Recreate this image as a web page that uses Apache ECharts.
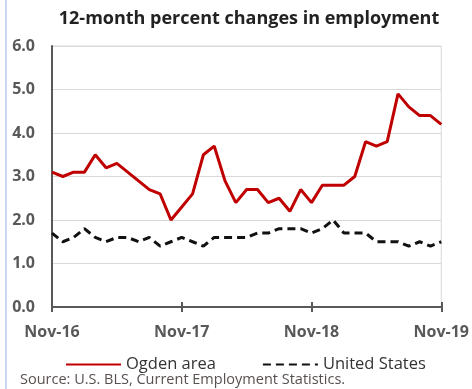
<!DOCTYPE html>
<html>
<head>
<meta charset="utf-8">
<script src="https://cdn.jsdelivr.net/npm/echarts@6/dist/echarts.min.js"></script>
<style>
  html, body { margin: 0; padding: 0; background: #fff; }
  #chart { width: 472px; height: 389px; }
</style>
</head>
<body>
<div id="chart"></div>
<script>
// months Nov-16 .. Nov-19
const months = [];
const monNames = ['Jan', 'Feb', 'Mar', 'Apr', 'May', 'Jun', 'Jul', 'Aug', 'Sep', 'Oct', 'Nov', 'Dec'];
for (let i = 0; i < 37; i++) {
  const m = (10 + i) % 12;
  const y = 16 + Math.floor((10 + i) / 12);
  months.push(monNames[m] + '-' + y);
}

const ogden = [3.1, 3.0, 3.1, 3.1, 3.5, 3.2, 3.3, 3.1, 2.9, 2.7, 2.6, 2.0,
  2.3, 2.6, 3.5, 3.7, 2.9, 2.4, 2.7, 2.7, 2.4, 2.5, 2.2, 2.7,
  2.4, 2.8, 2.8, 2.8, 3.0, 3.8, 3.7, 3.8, 4.9, 4.6, 4.4, 4.4, 4.2];

const unitedStates = [1.7, 1.5, 1.6, 1.8, 1.6, 1.5, 1.6, 1.6, 1.5, 1.6, 1.4, 1.5,
  1.6, 1.5, 1.4, 1.6, 1.6, 1.6, 1.6, 1.7, 1.7, 1.8, 1.8, 1.8,
  1.7, 1.8, 2.0, 1.7, 1.7, 1.7, 1.5, 1.5, 1.5, 1.4, 1.5, 1.4, 1.5];

const chart = echarts.init(document.getElementById('chart'));
const font = '"Open Sans", sans-serif';

const option = {
  backgroundColor: '#fff',
  animation: false,
  title: {
    text: '12-month percent changes in employment',
    left: 244,
    textAlign: 'center',
    top: 5,
    textStyle: { fontFamily: font, fontSize: 18, fontWeight: 'bold', color: '#222' },
  },
  grid: {
    left: 52,
    right: 29,
    top: 46,
    bottom: 82,
    show: true,
    borderColor: '#d9d9d9',
    borderWidth: 1,
  },
  legend: {
    left: 60,
    top: 351,
    itemWidth: 55,
    itemHeight: 10,
    itemGap: 46,
    itemStyle: { opacity: 0 },
    textStyle: { fontFamily: font, fontSize: 16.5, color: '#333' },
    data: ['Ogden area', 'United States'],
  },
  xAxis: [
    {
      type: 'category',
      data: months,
      boundaryGap: false,
      axisLine: { lineStyle: { color: '#595959', width: 2 } },
      axisTick: { interval: 11, length: 5, lineStyle: { color: '#595959', width: 2 } },
      axisLabel: {
        interval: 11,
        margin: 17,
        fontFamily: font,
        fontSize: 16,
        fontWeight: 'bold',
        color: '#595959',
        formatter: (v) => v,
      },
      splitLine: { show: false },
    },
    {
      type: 'category',
      data: months,
      boundaryGap: false,
      position: 'bottom',
      axisLine: { show: false },
      axisTick: { inside: true, interval: 11, length: 5, lineStyle: { color: '#595959', width: 2 } },
      axisLabel: { show: false },
      splitLine: { show: false },
    },
  ],
  yAxis: {
    type: 'value',
    min: 0,
    max: 6,
    interval: 1,
    axisLine: { show: true, lineStyle: { color: '#595959', width: 2 } },
    axisTick: { show: false },
    axisLabel: {
      margin: 17,
      fontFamily: font,
      fontSize: 16,
      fontWeight: 'bold',
      color: '#595959',
      formatter: (v) => v.toFixed(1),
    },
    splitLine: { lineStyle: { color: '#d9d9d9', width: 1 } },
  },
  graphic: [
    {
      type: 'rect',
      shape: { x: 5, y: 0, width: 2, height: 389 },
      style: { fill: '#c9d7ef' },
    },
    {
      type: 'text',
      left: 20,
      top: 372,
      style: {
        text: 'Source: U.S. BLS, Current Employment Statistics.',
        font: '14.5px "Open Sans", sans-serif',
        fill: '#5a5050',
      },
    },
  ],
  series: [
    {
      name: 'Ogden area',
      type: 'line',
      data: ogden,
      symbol: 'none',
      lineStyle: { color: '#c00000', width: 3 },
      itemStyle: { color: '#c00000' },
      z: 3,
    },
    {
      name: 'United States',
      type: 'line',
      data: unitedStates,
      symbol: 'none',
      lineStyle: { color: '#111', width: 3, type: [8, 5] },
      itemStyle: { color: '#111' },
      z: 2,
    },
  ],
};

chart.setOption(option);
</script>
</body>
</html>
